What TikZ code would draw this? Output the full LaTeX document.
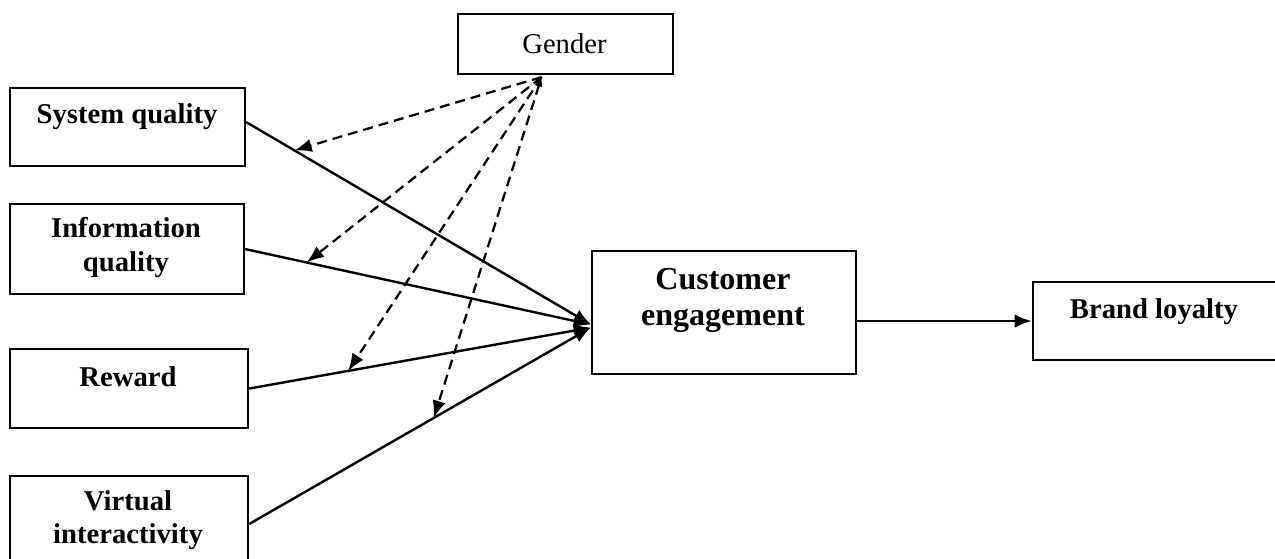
\documentclass[tikz,border=0pt]{standalone}
\usepackage{fontspec}
\setmainfont{Liberation Serif}
\usetikzlibrary{arrows.meta,calc}

\newlength\pxu
\setlength\pxu{0.75pt}

\tikzset{
  box/.style={draw, line width=1.6pt, inner sep=0pt, anchor=north west},
  lbl/.style={inner sep=0pt, align=center, font=\bfseries\fontsize{21.5}{25}\selectfont},
  plain/.style={inner sep=0pt, align=center, font=\fontsize{21.5}{25}\selectfont},
  link/.style={line width=1.8pt, -{Latex[length=13pt,width=10pt]}},
  modpath/.style={line width=1.7pt, dash pattern=on 7.5pt off 4.5pt, -{Latex[length=13pt,width=10pt]}},
}

\begin{document}
\begin{tikzpicture}[x=0.75pt,y=0.75pt,yscale=-1,xscale=1]
\useasboundingbox (0,0) rectangle (1275,559);

% Boxes
\node[box, minimum width=215\pxu, minimum height=60\pxu] (gen) at (457,13) {};
\node[box, minimum width=235\pxu, minimum height=78\pxu] (sq) at (9,87) {};
\node[box, minimum width=234\pxu, minimum height=90\pxu] (iq) at (9,203) {};
\node[box, minimum width=238\pxu, minimum height=79\pxu] (rw) at (9,348) {};
\node[box, minimum width=238\pxu, minimum height=96\pxu] (vi) at (9,475) {};
\node[box, minimum width=264\pxu, minimum height=123\pxu] (ce) at (591,250) {};
\node[box, minimum width=260\pxu, minimum height=78\pxu] (bl) at (1032,281) {};

% Texts
\node[plain] (gen-t) at (564.5,44) {Gender};
\node[lbl] (sq-t) at (127,117) {System quality};
\node[lbl] (iq-t) at (126,247.5) {Information\\quality};
\node[lbl] (rw-t) at (128,377) {Reward};
\node[lbl] (vi-t) at (128,520) {Virtual\\interactivity};
\node[lbl, font=\bfseries\fontsize{24}{27}\selectfont] (ce-t) at (723,300) {Customer\\engagement};
\node[lbl] (bl-t) at (1154,312) {Brand loyalty};

% Entry points
\coordinate (ce-a) at ($(ce.west)+(0,12)$);
\coordinate (ce-b) at ($(ce.west)+(0,15)$);
\coordinate (gen-o) at ($(gen.south)+(-24,2)$);

% Direct paths
\draw[link] ($(sq.east)+(0,-5)$) -- coordinate[pos=0.14] (m-sq) (ce-a);
\draw[link] (iq.east) -- coordinate[pos=0.178] (m-iq) (ce-a);
\draw[link] (rw.east) -- coordinate[pos=0.29] (m-rw) (ce-b);
\draw[link] (vi.east) -- coordinate[pos=0.54] (m-vi) (ce-b);
\draw[link] (ce.east |- bl.west) -- (bl.west);

% Moderating paths
\draw[modpath] (gen-o) -- (m-sq);
\draw[modpath] (gen-o) -- (m-iq);
\draw[modpath] (gen-o) -- (m-rw);
\draw[modpath, {Latex[length=7pt,width=6pt]}-{Latex[length=13pt,width=10pt]}] (gen-o) -- (m-vi);

\end{tikzpicture}
\end{document}
